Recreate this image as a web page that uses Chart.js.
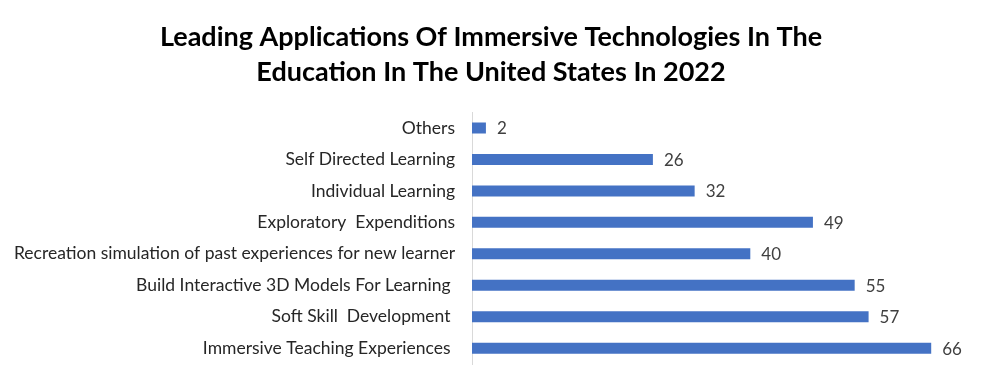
<!DOCTYPE html>
<html>
<head>
<meta charset="utf-8">
<script src="https://cdn.jsdelivr.net/npm/chart.js@4"></script>
<style>
  html, body { margin: 0; padding: 0; background: #fff; }
  #wrap { width: 982px; height: 386px; position: relative; }
</style>
</head>
<body>
<div id="wrap"><canvas id="chart"></canvas></div>
<script>
const categories = [
    "Others",
    "Self Directed Learning",
    "Individual Learning",
    "Exploratory  Expenditions",
    "Recreation simulation of past experiences for new learner",
    "Build Interactive 3D Models For Learning ",
    "Soft Skill  Development ",
    "Immersive Teaching Experiences ",
];
const values = [2, 26, 32, 49, 40, 55, 57, 66];
const titleLines = [
    "Leading Applications Of Immersive Technologies In The",
    "Education In The United States In 2022",
];

// etiquetas de valor no fim de cada barra
const valueLabels = {
    id: "valueLabels",
    afterDatasetsDraw(chart) {
        const ctx = chart.ctx;
        const meta = chart.getDatasetMeta(0);
        ctx.save();
        ctx.font = "17px Lato";
        ctx.fillStyle = "#404040";
        ctx.textBaseline = "middle";
        ctx.textAlign = "left";
        meta.data.forEach((bar, i) => {
            ctx.fillText(values[i], bar.x + 11, bar.y + 1);
        });
        ctx.restore();
    },
};

new Chart(document.getElementById("chart"), {
    type: "bar",
    data: {
        labels: categories,
        datasets: [
            {
                data: values,
                backgroundColor: "#4472C4",
                barPercentage: 0.7,
                categoryPercentage: 0.5,
            },
        ],
    },
    options: {
        indexAxis: "y",
        responsive: true,
        maintainAspectRatio: false,
        animation: false,
        layout: { padding: { top: 0, bottom: 22, left: 0, right: 0 } },
        plugins: {
            legend: { display: false },
            tooltip: { enabled: false },
            title: {
                display: true,
                text: titleLines,
                color: "#000",
                font: { family: "Lato", size: 27, weight: "bold", lineHeight: 1.3 },
                padding: { top: 20, bottom: 22 },
            },
        },
        scales: {
            x: { display: false, min: 0, max: 73.3 },
            y: {
                afterFit(scale) { scale.width = 472; },
                grid: { display: false },
                border: { display: true, color: "#d9d9d9" },
                ticks: {
                    color: "#262626",
                    padding: 9,
                    font: { family: "Lato", size: 17.5 },
                },
            },
        },
    },
    plugins: [valueLabels],
});
</script>
</body>
</html>
